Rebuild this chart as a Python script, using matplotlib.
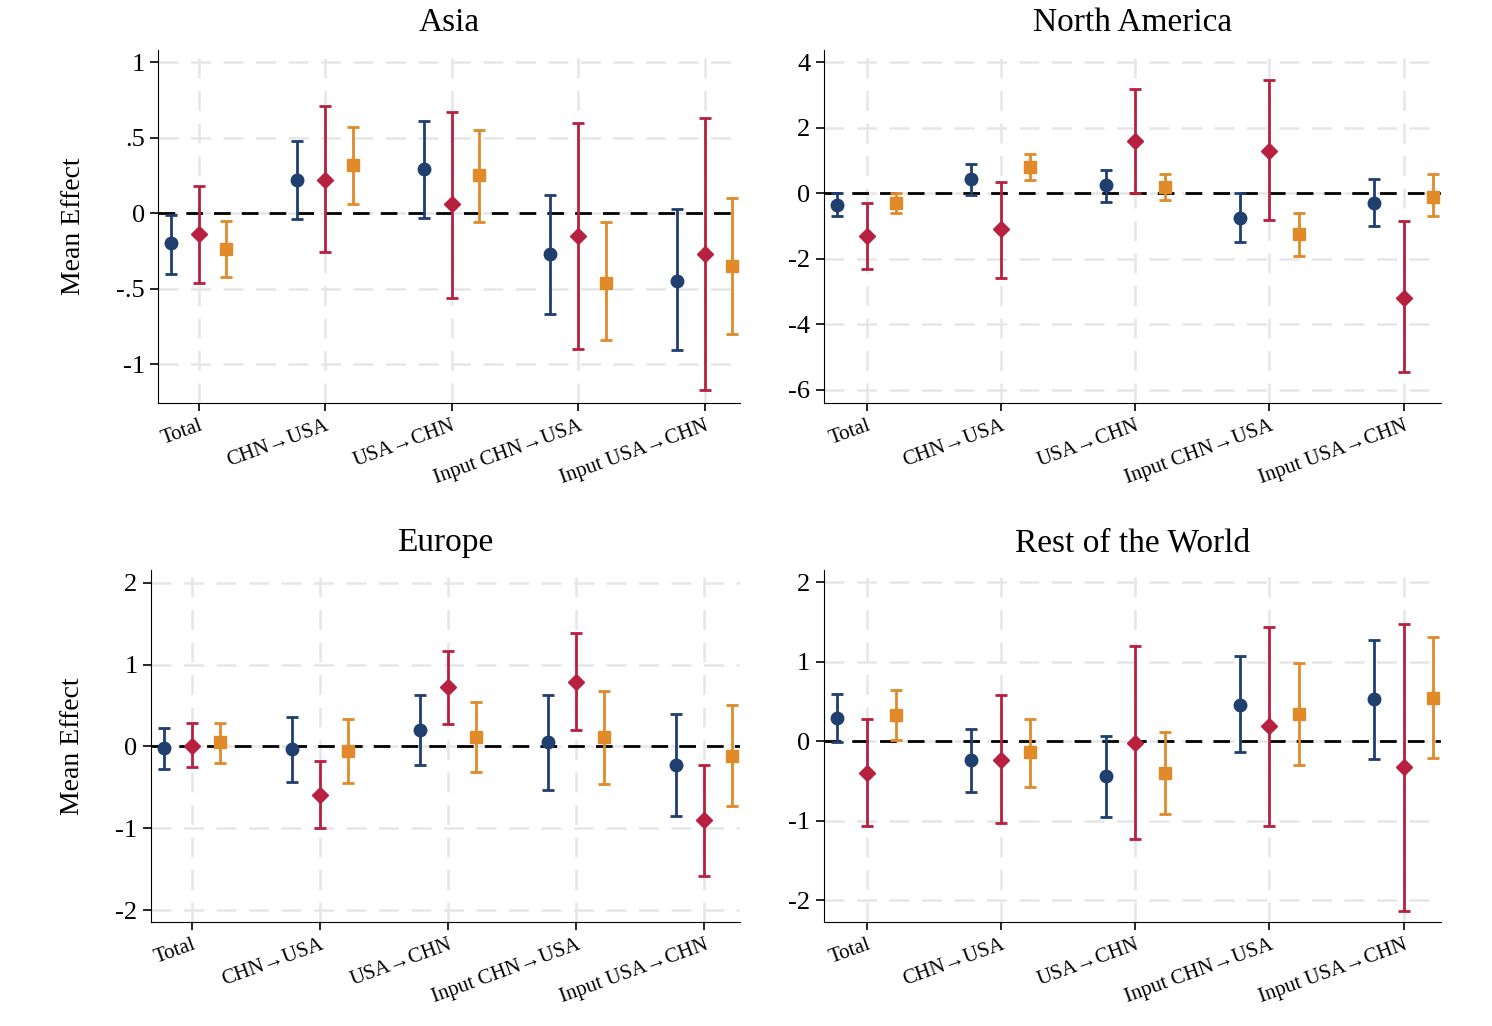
import numpy as np
import matplotlib
matplotlib.use("Agg")
from matplotlib import pyplot as plt

plt.rcParams['font.family'] = ['Liberation Serif', 'DejaVu Serif']

categories = ["Total", "CHN\u2192USA", "USA\u2192CHN", "Input CHN\u2192USA", "Input USA\u2192CHN"]

# per region: (mean, low, high) for blue / red / orange series
asia_blue = [(-0.20, -0.40, -0.01), (0.22, -0.04, 0.48), (0.29, -0.03, 0.61), (-0.27, -0.67, 0.12), (-0.45, -0.91, 0.03)]
asia_red = [(-0.14, -0.46, 0.18), (0.22, -0.26, 0.71), (0.06, -0.56, 0.67), (-0.15, -0.90, 0.60), (-0.27, -1.17, 0.63)]
asia_orange = [(-0.24, -0.42, -0.05), (0.32, 0.06, 0.57), (0.25, -0.06, 0.55), (-0.46, -0.84, -0.06), (-0.35, -0.80, 0.10)]

na_blue = [(-0.35, -0.7, 0.0), (0.45, -0.05, 0.9), (0.25, -0.25, 0.7), (-0.75, -1.5, 0.0), (-0.3, -1.0, 0.45)]
na_red = [(-1.3, -2.3, -0.3), (-1.1, -2.6, 0.35), (1.6, 0.0, 3.2), (1.3, -0.8, 3.45), (-3.2, -5.45, -0.85)]
na_orange = [(-0.3, -0.6, 0.0), (0.8, 0.4, 1.2), (0.2, -0.2, 0.6), (-1.25, -1.9, -0.6), (-0.1, -0.7, 0.6)]

eu_blue = [(-0.02, -0.27, 0.23), (-0.03, -0.43, 0.36), (0.20, -0.23, 0.63), (0.05, -0.53, 0.63), (-0.23, -0.85, 0.39)]
eu_red = [(0.01, -0.25, 0.28), (-0.59, -1.0, -0.18), (0.72, 0.27, 1.17), (0.79, 0.20, 1.38), (-0.90, -1.58, -0.23)]
eu_orange = [(0.05, -0.20, 0.28), (-0.06, -0.45, 0.33), (0.11, -0.31, 0.54), (0.11, -0.46, 0.68), (-0.12, -0.73, 0.50)]

row_blue = [(0.29, -0.01, 0.60), (-0.24, -0.64, 0.16), (-0.44, -0.95, 0.07), (0.46, -0.14, 1.07), (0.53, -0.22, 1.28)]
row_red = [(-0.40, -1.07, 0.28), (-0.23, -1.03, 0.58), (-0.02, -1.23, 1.20), (0.19, -1.07, 1.44), (-0.33, -2.14, 1.47)]
row_orange = [(0.33, 0.02, 0.64), (-0.14, -0.57, 0.28), (-0.40, -0.92, 0.12), (0.34, -0.30, 0.99), (0.55, -0.21, 1.31)]

panels = [
    ("Asia", [asia_blue, asia_red, asia_orange], [0.106, 0.607, 0.390, 0.344], (-1.26, 1.08),
     [1, 0.5, 0, -0.5, -1], ["1", ".5", "0", "-.5", "-1"], True),
    ("North America", [na_blue, na_red, na_orange], [0.552, 0.607, 0.414, 0.344], (-6.41, 4.37),
     [4, 2, 0, -2, -4, -6], ["4", "2", "0", "-2", "-4", "-6"], False),
    ("Europe", [eu_blue, eu_red, eu_orange], [0.101, 0.101, 0.395, 0.343], (-2.15, 2.15),
     [2, 1, 0, -1, -2], ["2", "1", "0", "-1", "-2"], True),
    ("Rest of the World", [row_blue, row_red, row_orange], [0.552, 0.101, 0.414, 0.343], (-2.28, 2.15),
     [2, 1, 0, -1, -2], ["2", "1", "0", "-1", "-2"], False),
]

colors = ["#1f3f6e", "#b8203f", "#e08a2a"]
markers = ["o", "D", "s"]
msizes = [9, 8, 9]
offsets = [-0.22, 0.0, 0.22]

fig = plt.figure(figsize=(14.92, 10.26), dpi=100)
for title, series, pos, ylim, yt, ytl, ylab in panels:
    ax = fig.add_axes(pos)
    x = np.arange(len(categories))
    for s, c, m, ms, off in zip(series, colors, markers, msizes, offsets):
        arr = np.array(s)
        ax.errorbar(x + off, arr[:, 0], yerr=[arr[:, 0] - arr[:, 1], arr[:, 2] - arr[:, 0]],
                    fmt=m, color=c, ms=ms, elinewidth=2, capsize=4, capthick=2, zorder=3)
    ax.axhline(0, color="black", lw=2, ls=(0, (6, 4)), zorder=2)
    ax.set_xlim(-0.32, 4.28)
    ax.set_ylim(*ylim)
    ax.set_yticks(yt)
    ax.set_yticklabels(ytl, fontsize=19)
    ax.set_xticks(x)
    ax.set_xticklabels(categories, rotation=20, ha="right", rotation_mode="anchor", fontsize=15)
    ax.grid(True, color="#e6e6e6", lw=1.8, ls=(0, (8, 5)), zorder=0)
    ax.spines["top"].set_visible(False)
    ax.spines["right"].set_visible(False)
    ax.tick_params(length=6, width=1.2)
    ax.set_title(title, fontsize=24, pad=14)
    if ylab:
        ax.set_ylabel("Mean Effect", fontsize=20, labelpad=22)

fig.savefig("out.png", dpi=100)
